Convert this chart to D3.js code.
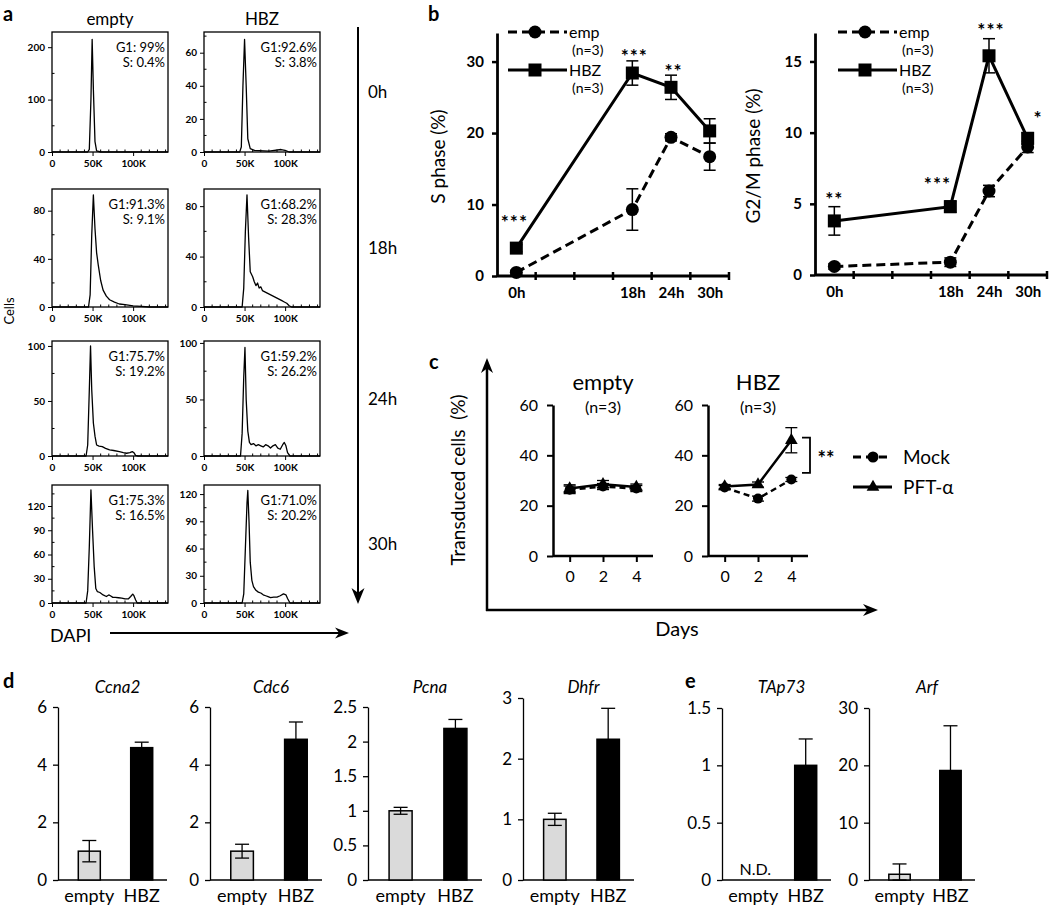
<!DOCTYPE html>
<html><head><meta charset="utf-8">
<script src="https://cdn.jsdelivr.net/npm/d3@7"></script>
<style>
body{margin:0;background:#fff;}
svg{display:block;font-family:Lato,"Open Sans",sans-serif;}
</style></head><body>
<script>
// ================= DATA =================
// Panel a : DNA histograms
const histConds = ["empty", "HBZ"];
const histTimes = ["0h", "18h", "24h", "30h"];
const histG1 = ["G1: 99%", "G1:92.6%", "G1:91.3%", "G1:68.2%", "G1:75.7%", "G1:59.2%", "G1:75.3%", "G1:71.0%"];
const histS  = ["S: 0.4%", "S: 3.8%", "S: 9.1%", "S: 28.3%", "S: 19.2%", "S: 26.2%", "S: 16.5%", "S: 20.2%"];
const histYTicks = [[0,100,200],[0,20,40,60],[0,40,80],[0,40,80],[0,50,100],[0,50,100],[0,30,60,90,120],[0,30,60,90,120]];
const histYMax = [229, 72.5, 98, 93.6, 104.5, 101.7, 146, 130];
const histXTicks = [0, 50, 100];
const histXTickLabels = ["0", "50K", "100K"];
const histXMax = 143;
const histE0  = [[0,0],[44,0],[46,5],[48,100],[49.5,215],[51,120],[53,20],[55,2],[60,0],[143,0]];
const histH0  = [[0,0],[44,0],[46,3],[48,40],[50,68],[52,40],[54,8],[57,2],[62,1],[80,0.5],[95,1.5],[100,1],[105,0],[143,0]];
const histE18 = [[0,0],[45,0],[47,10],[49,60],[51,93],[53,65],[55,45],[57,35],[60,22],[63,14],[67,9],[71,6],[77,4],[83,2.5],[90,2],[100,1],[110,0.5],[120,0],[143,0]];
const histH18 = [[0,0],[47,0],[49,15],[51,60],[53,89],[55,55],[57,28],[60,24],[62,20],[64,17],[66,19],[68,15],[70,16],[72,13],[75,12],[78,11],[81,10],[84,9],[87,8],[90,7],[93,6],[96,5],[99,4],[102,3],[105,1],[108,0],[143,0]];
const histE24 = [[0,0],[42,0],[44,10],[46,60],[47.5,100],[49,60],[51,30],[53,18],[55,10],[58,9],[62,8.5],[66,7],[71,5.5],[76,5],[83,4],[88,3],[92,2.5],[96,3],[99,4],[101,3],[103,0.5],[106,0],[143,0]];
const histH24 = [[0,0],[45,0],[47,20],[49,70],[50.5,96],[52,50],[54,22],[56,12],[58,10],[61,11],[64,9],[67,10],[70,9],[73,8],[76,10],[79,9],[82,7],[85,9],[88,10],[91,7],[94,6],[97,10],[99,12],[101,9],[103,3],[106,0],[143,0]];
const histE30 = [[0,0],[42,0],[44,15],[46,70],[48,140],[50,90],[52,45],[54,18],[56,14],[59,13],[63,10],[67,8],[70,10],[72,9],[75,7],[78,7],[82,6.5],[86,6],[90,5],[94,5],[97,8],[99.5,11],[101,9],[103,4],[105,0],[143,0]];
const histH30 = [[0,0],[47,0],[49,10],[51,60],[53,110],[54,124],[55.5,90],[57,45],[59,25],[61,18],[64,14],[67,12],[70,11],[73,9],[76,8],[79,7],[82,6],[86,6.5],[90,6.5],[94,8],[98,10],[101,9],[103,5],[106,0],[143,0]];
const histCurves = [histE0, histH0, histE18, histH18, histE24, histH24, histE30, histH30];

// Panel b : S phase and G2/M phase time course
const bHours = [0, 18, 24, 30];
const bHourLabels = ["0h", "18h", "24h", "30h"];
const bSeries = ["emp", "HBZ"];
const sEmp = [0.5, 9.3, 19.4, 16.7];
const sEmpErr = [0.3, 2.9, 0.5, 1.9];
const sHBZ = [3.9, 28.4, 26.4, 20.3];
const sHBZErr = [0.5, 1.7, 1.7, 1.7];
const sStars = ["***", "***", "**"];
const sStarX = [-0.3, 18.3, 24.4];
const sStarY = [8.1, 31.3, 29.2];
const sYTicks = [0, 10, 20, 30];
const gEmp = [0.6, 0.9, 5.9, 9.0];
const gEmpErr = [0.2, 0.3, 0.4, 0.4];
const gHBZ = [3.8, 4.8, 15.4, 9.6];
const gHBZErr = [1.0, 0.4, 1.2, 0.4];
const gStars = ["**", "***", "***", "*"];
const gStarX = [0, 16, 24.3, 31.6];
const gStarY = [5.6, 6.7, 17.5, 11.3];
const gYTicks = [0, 5, 10, 15];

// Panel c : transduced cells
const cDays = [0, 2, 4];
const cSeries = ["Mock", "PFT-α"];
const cEmptyMock = [26.3, 27.6, 26.8];
const cEmptyMockErr = [1.5, 1.2, 1.2];
const cEmptyPFT = [26.8, 28.5, 27.4];
const cEmptyPFTErr = [1.5, 1.5, 1.2];
const cHBZMock = [27.2, 22.8, 30.4];
const cHBZMockErr = [0.8, 1.0, 0.8];
const cHBZPFT = [27.6, 28.4, 46.0];
const cHBZPFTErr = [0.8, 1.0, 5.0];
const cYTicks = [0, 20, 40, 60];
const cBracket = [33, 47];

// Panels d, e : qPCR
const genes = ["Ccna2", "Cdc6", "Pcna", "Dhfr", "TAp73", "Arf"];
const groups = ["empty", "HBZ"];
const geneEmpty    = [1.0, 1.0, 1.0, 1.0, null, 1.0];
const geneEmptyErr = [0.37, 0.24, 0.05, 0.1, null, 1.8];
const geneHBZ      = [4.59, 4.88, 2.19, 2.32, 1.0, 19.1];
const geneHBZErr   = [0.19, 0.6, 0.13, 0.51, 0.23, 7.8];
const geneYMax = [6, 6, 2.5, 3, 1.5, 30];
const geneYTicks = [[0,2,4,6],[0,2,4,6],[0,0.5,1,1.5,2,2.5],[0,1,2,3],[0,0.5,1,1.5],[0,10,20,30]];

// ================= DRAW =================
const svg = d3.select("body").append("svg").attr("width", 1050).attr("height", 907);

function panelLetter(t, x, y) {
  svg.append("text").attr("x", x).attr("y", y).attr("font-size", 20).attr("font-weight", 700).text(t);
}
function arrowHead(x, y, angle, len, hw) {
  const p = `M0,0 L${-len},${-hw} L${-len * 0.7},0 L${-len},${hw} Z`;
  svg.append("path").attr("d", p).attr("fill", "#000")
    .attr("transform", `translate(${x},${y}) rotate(${angle})`);
}

// ---------- Panel a ----------
panelLetter("a", 3, 21);
const colX = [52, 204], fw = 116;
const rowTop = [32, 189, 341, 485], rowBot = [152, 307, 456, 603];
const titleX = [110, 262];
histConds.forEach((c, i) => svg.append("text").attr("x", titleX[i]).attr("y", 25)
  .attr("text-anchor", "middle").attr("font-size", 17).text(c));

histCurves.forEach((curve, i) => {
  const row = Math.floor(i / 2), col = i % 2;
  const x = d3.scaleLinear([0, histXMax], [colX[col], colX[col] + fw]);
  const y = d3.scaleLinear([0, histYMax[i]], [rowBot[row], rowTop[row]]);
  const g = svg.append("g");
  const yt = histYTicks[i], step = yt[1] - yt[0];
  const minorY = [];
  for (let v = step / 2; v < histYMax[i]; v += step / 2) if (!yt.includes(v)) minorY.push(v);
  g.selectAll(".my").data(minorY).join("line")
    .attr("x1", x(0)).attr("x2", x(0) + 2.5).attr("y1", d => y(d)).attr("y2", d => y(d))
    .attr("stroke", "#000").attr("stroke-width", 1);
  const minorX = d3.range(10, histXMax, 10).filter(v => !histXTicks.includes(v));
  g.selectAll(".mx").data(minorX).join("line")
    .attr("x1", d => x(d)).attr("x2", d => x(d)).attr("y1", y(0)).attr("y2", y(0) - 2.5)
    .attr("stroke", "#000").attr("stroke-width", 1);
  const ya = g.append("g").attr("transform", `translate(${x(0)},0)`)
    .call(d3.axisLeft(y).tickValues(yt).tickSize(4).tickSizeOuter(0).tickPadding(3));
  ya.select(".domain").remove();
  ya.selectAll("text").attr("font-size", 10).attr("font-weight", 700).attr("font-family", "Lato");
  const xa = g.append("g").attr("transform", `translate(0,${y(0)})`)
    .call(d3.axisBottom(x).tickValues(histXTicks).tickFormat((d, k) => histXTickLabels[k]).tickSize(4).tickSizeOuter(0).tickPadding(4));
  xa.select(".domain").remove();
  xa.selectAll("text").attr("font-size", 10).attr("font-weight", 700).attr("font-family", "Lato");
  g.append("rect").attr("x", x(0)).attr("y", rowTop[row]).attr("width", fw)
    .attr("height", rowBot[row] - rowTop[row]).attr("fill", "none").attr("stroke", "#000").attr("stroke-width", 1.3);
  g.append("path").datum(curve)
    .attr("d", d3.line().x(d => x(d[0])).y(d => y(Math.min(d[1], histYMax[i]))))
    .attr("fill", "none").attr("stroke", "#000").attr("stroke-width", 1.3).attr("stroke-linejoin", "round");
  g.append("text").attr("x", x(0) + fw - 3).attr("y", rowTop[row] + 20).attr("text-anchor", "end")
    .attr("font-size", 13).text(histG1[i]);
  g.append("text").attr("x", x(0) + fw - 3).attr("y", rowTop[row] + 35).attr("text-anchor", "end")
    .attr("font-size", 13).text(histS[i]);
});
histTimes.forEach((t, r) => svg.append("text").attr("x", 368).attr("y", (rowTop[r] + rowBot[r]) / 2 + 6)
  .attr("font-size", 17).text(t));
svg.append("line").attr("x1", 358).attr("x2", 358).attr("y1", 27).attr("y2", 595)
  .attr("stroke", "#000").attr("stroke-width", 2);
arrowHead(358, 604, 90, 16, 6.5);
svg.append("text").attr("transform", "translate(14,311) rotate(-90)").attr("text-anchor", "middle")
  .attr("font-size", 13).text("Cells");
svg.append("text").attr("x", 50).attr("y", 642).attr("font-size", 18).text("DAPI");
svg.append("line").attr("x1", 110).attr("x2", 340).attr("y1", 633).attr("y2", 633)
  .attr("stroke", "#000").attr("stroke-width", 2);
arrowHead(349, 633, 0, 14, 5.5);

// ---------- Panel b ----------
panelLetter("b", 428, 21);
function drawB(cfg) {
  const x = d3.scaleLinear([-3, 33], [cfg.x0, cfg.x1]);
  const y = d3.scaleLinear([0, cfg.yMax], [cfg.y0, cfg.y1]);
  const g = svg.append("g");
  const ya = g.append("g").attr("transform", `translate(${cfg.x0},0)`)
    .call(d3.axisLeft(y).tickValues(cfg.yTicks).tickSize(5).tickSizeOuter(0).tickPadding(8));
  ya.select(".domain").attr("stroke-width", 2.8);
  ya.selectAll(".tick line").attr("stroke-width", 2.5);
  ya.selectAll("text").attr("font-size", 15).attr("font-weight", 700).attr("font-family", "Lato");
  g.append("line").attr("x1", cfg.x0).attr("x2", cfg.x1).attr("y1", cfg.y0).attr("y2", cfg.y0)
    .attr("stroke", "#000").attr("stroke-width", 2.8);
  g.selectAll(".xt").data(d3.range(3, 34, 6)).join("line")
    .attr("x1", d => x(d)).attr("x2", d => x(d)).attr("y1", cfg.y0 - 4).attr("y2", cfg.y0 + 4)
    .attr("stroke", "#000").attr("stroke-width", 2.5);
  const xa = g.append("g").attr("transform", `translate(0,${cfg.y0})`)
    .call(d3.axisBottom(x).tickValues(bHours).tickFormat((d, k) => bHourLabels[k]).tickSize(0).tickPadding(11));
  xa.select(".domain").remove();
  xa.selectAll("text").attr("font-size", 15).attr("font-weight", 700).attr("font-family", "Lato");
  g.append("text").attr("transform", `translate(${cfg.titleX},${(cfg.y0 + cfg.y1) / 2 + 2}) rotate(-90)`)
    .attr("text-anchor", "middle").attr("font-size", 19).text(cfg.title);
  const series = [
    { v: cfg.emp, e: cfg.empErr, dash: "9,5", mark: "circle" },
    { v: cfg.hbz, e: cfg.hbzErr, dash: null, mark: "square" }
  ];
  const line = d3.line().x((d, k) => x(bHours[k])).y(d => y(d));
  series.forEach(s => {
    g.append("path").datum(s.v).attr("d", line).attr("fill", "none").attr("stroke", "#000")
      .attr("stroke-width", 3).attr("stroke-dasharray", s.dash);
  });
  series.forEach(s => {
    s.v.forEach((v, k) => {
      const cx = x(bHours[k]);
      g.append("line").attr("x1", cx).attr("x2", cx).attr("y1", y(v - s.e[k])).attr("y2", y(v + s.e[k]))
        .attr("stroke", "#000").attr("stroke-width", 1.5);
      [v - s.e[k], v + s.e[k]].forEach(t => g.append("line").attr("x1", cx - 6).attr("x2", cx + 6)
        .attr("y1", y(t)).attr("y2", y(t)).attr("stroke", "#000").attr("stroke-width", 1.5));
    });
  });
  series.forEach(s => {
    s.v.forEach((v, k) => {
      const cx = x(bHours[k]), cy = y(v);
      if (s.mark === "circle") g.append("circle").attr("cx", cx).attr("cy", cy).attr("r", 6.5).attr("fill", "#000");
      else g.append("rect").attr("x", cx - 6.5).attr("y", cy - 6.5).attr("width", 13).attr("height", 13).attr("fill", "#000");
    });
  });
  cfg.stars.forEach((st, k) => g.append("text").attr("x", x(cfg.starX[k])).attr("y", y(cfg.starY[k]) + 11)
    .attr("text-anchor", "middle").attr("font-size", 19).attr("font-weight", 700)
    .attr("letter-spacing", 1).text(st));
  const lx = cfg.legendX;
  bSeries.forEach((name, k) => {
    const ly = [32, 70][k];
    g.append("line").attr("x1", lx).attr("x2", lx + 59).attr("y1", ly).attr("y2", ly)
      .attr("stroke", "#000").attr("stroke-width", 3).attr("stroke-dasharray", k === 0 ? "9,5" : null);
    if (k === 0) g.append("circle").attr("cx", lx + 27).attr("cy", ly).attr("r", 6.5).attr("fill", "#000");
    else g.append("rect").attr("x", lx + 20.5).attr("y", ly - 6.5).attr("width", 13).attr("height", 13).attr("fill", "#000");
    g.append("text").attr("x", lx + 61).attr("y", ly + 6).attr("font-size", 16).text(name);
    g.append("text").attr("x", lx + 64).attr("y", ly + 23).attr("font-size", 14).text("(n=3)");
  });
}
drawB({ x0: 497, x1: 729, y0: 276, y1: 33, yMax: 34, yTicks: sYTicks, title: "S phase (%)", titleX: 445,
  emp: sEmp, empErr: sEmpErr, hbz: sHBZ, hbzErr: sHBZErr, stars: sStars, starX: sStarX, starY: sStarY, legendX: 508 });
drawB({ x0: 815, x1: 1047, y0: 275, y1: 33, yMax: 17, yTicks: gYTicks, title: "G2/M phase (%)", titleX: 760,
  emp: gEmp, empErr: gEmpErr, hbz: gHBZ, hbzErr: gHBZErr, stars: gStars, starX: gStarX, starY: gStarY, legendX: 838 });

// ---------- Panel c ----------
panelLetter("c", 429, 369);
svg.append("line").attr("x1", 487).attr("x2", 487).attr("y1", 611).attr("y2", 368)
  .attr("stroke", "#000").attr("stroke-width", 2.5);
arrowHead(487, 358, -90, 15, 6);
svg.append("line").attr("x1", 486).attr("x2", 868).attr("y1", 610).attr("y2", 610)
  .attr("stroke", "#000").attr("stroke-width", 2.5);
arrowHead(878, 610, 0, 15, 6);
svg.append("text").attr("transform", "translate(465,480) rotate(-90)").attr("text-anchor", "middle")
  .attr("font-size", 19).style("white-space", "pre").text("Transduced cells  (%)");
svg.append("text").attr("x", 677).attr("y", 636).attr("text-anchor", "middle").attr("font-size", 20).text("Days");

function drawC(cfg) {
  const x = d3.scaleLinear([-1, 5], [cfg.x0, cfg.x0 + 100]);
  const y = d3.scaleLinear([0, 60], [556, 405]);
  const g = svg.append("g");
  const ya = g.append("g").attr("transform", `translate(${cfg.x0},0)`)
    .call(d3.axisLeft(y).tickValues(cYTicks).tickSize(6).tickSizeOuter(0).tickPadding(9));
  ya.select(".domain").attr("stroke-width", 2.5);
  ya.selectAll(".tick line").attr("stroke-width", 2);
  ya.selectAll("text").attr("font-size", 16).attr("font-family", "Lato");
  const xa = g.append("g").attr("transform", `translate(0,556)`)
    .call(d3.axisBottom(x).tickValues(cDays).tickFormat(d3.format("d")).tickSize(6).tickSizeOuter(0).tickPadding(9));
  xa.select(".domain").attr("stroke-width", 2.5).attr("d", `M${cfg.x0},0H${cfg.x0 + 100}`);
  xa.selectAll(".tick line").attr("stroke-width", 2);
  xa.selectAll("text").attr("font-size", 16).attr("font-family", "Lato");
  g.append("text").attr("x", x(2)).attr("y", 390).attr("text-anchor", "middle").attr("font-size", 22).text(cfg.title);
  g.append("text").attr("x", x(2)).attr("y", 413).attr("text-anchor", "middle").attr("font-size", 16).text("(n=3)");
  const line = d3.line().x((d, k) => x(cDays[k])).y(d => y(d));
  const ser = [
    { v: cfg.mock, e: cfg.mockErr, dash: "6,4", mark: "circle" },
    { v: cfg.pft, e: cfg.pftErr, dash: null, mark: "tri" }
  ];
  ser.forEach(s => g.append("path").datum(s.v).attr("d", line).attr("fill", "none").attr("stroke", "#000")
    .attr("stroke-width", 2.5).attr("stroke-dasharray", s.dash));
  ser.forEach(s => s.v.forEach((v, k) => {
    const cx = x(cDays[k]);
    g.append("line").attr("x1", cx).attr("x2", cx).attr("y1", y(v - s.e[k])).attr("y2", y(v + s.e[k]))
      .attr("stroke", "#000").attr("stroke-width", 1.3);
    [v - s.e[k], v + s.e[k]].forEach(t => g.append("line").attr("x1", cx - 6).attr("x2", cx + 6)
      .attr("y1", y(t)).attr("y2", y(t)).attr("stroke", "#000").attr("stroke-width", 1.3));
  }));
  ser.forEach(s => s.v.forEach((v, k) => {
    const cx = x(cDays[k]), cy = y(v);
    if (s.mark === "circle") g.append("circle").attr("cx", cx).attr("cy", cy).attr("r", 5).attr("fill", "#000");
    else g.append("path").attr("d", d3.symbol(d3.symbolTriangle, 70)()).attr("transform", `translate(${cx},${cy})`).attr("fill", "#000");
  }));
  return { x, y, g };
}
drawC({ x0: 553, title: "empty", mock: cEmptyMock, mockErr: cEmptyMockErr, pft: cEmptyPFT, pftErr: cEmptyPFTErr });
const cH = drawC({ x0: 708, title: "HBZ", mock: cHBZMock, mockErr: cHBZMockErr, pft: cHBZPFT, pftErr: cHBZPFTErr });
{
  const bx = 810, y1 = cH.y(cBracket[1]), y0 = cH.y(cBracket[0]);
  svg.append("path").attr("d", `M${bx - 8},${y1}H${bx}V${y0}H${bx - 8}`).attr("fill", "none")
    .attr("stroke", "#000").attr("stroke-width", 1.8);
  svg.append("text").attr("x", 826).attr("y", (y0 + y1) / 2 + 11).attr("text-anchor", "middle")
    .attr("font-size", 20).attr("font-weight", 700).text("**");
}
cSeries.forEach((name, k) => {
  const ly = [457, 487][k];
  svg.append("line").attr("x1", 853).attr("x2", 892).attr("y1", ly).attr("y2", ly).attr("stroke", "#000")
    .attr("stroke-width", 3).attr("stroke-dasharray", k === 0 ? "8,5" : null);
  if (k === 0) svg.append("circle").attr("cx", 873).attr("cy", ly).attr("r", 5.5).attr("fill", "#000");
  else svg.append("path").attr("d", d3.symbol(d3.symbolTriangle, 70)()).attr("transform", `translate(873,${ly})`).attr("fill", "#000");
  svg.append("text").attr("x", 903).attr("y", ly + 7).attr("font-size", 19).text(name);
});

// ---------- Panels d, e ----------
panelLetter("d", 3, 688);
panelLetter("e", 685, 688);
const dX = [[58, 167], [210, 322], [368, 482], [523, 634], [722, 831], [869, 975]];
const dTop = [707, 707, 707, 698, 708, 708];
const dBase = 880;
genes.forEach((gene, i) => {
  const g = svg.append("g");
  const x = d3.scaleBand(groups, [dX[i][0] + 3, dX[i][1] + 3]).paddingInner(0.58).paddingOuter(0.33);
  const y = d3.scaleLinear([0, geneYMax[i]], [dBase, dTop[i]]);
  const ya = g.append("g").attr("transform", `translate(${dX[i][0]},0)`)
    .call(d3.axisLeft(y).tickValues(geneYTicks[i]).tickFormat(d => String(d)).tickSize(5).tickSizeOuter(0).tickPadding(6));
  ya.select(".domain").attr("stroke-width", 1.3);
  ya.selectAll(".tick line").attr("stroke-width", 1.3);
  ya.selectAll("text").attr("font-size", 17).attr("font-family", "Lato");
  g.append("line").attr("x1", dX[i][0]).attr("x2", dX[i][1]).attr("y1", dBase).attr("y2", dBase)
    .attr("stroke", "#000").attr("stroke-width", 1.3);
  const vals = [geneEmpty[i], geneHBZ[i]], errs = [geneEmptyErr[i], geneHBZErr[i]];
  vals.forEach((v, k) => {
    if (v === null) return;
    g.append("rect").attr("x", x(groups[k])).attr("width", x.bandwidth()).attr("y", y(v)).attr("height", dBase - y(v))
      .attr("fill", k === 0 ? "#dadada" : "#000").attr("stroke", "#000").attr("stroke-width", 1.5);
  });
  vals.forEach((v, k) => {
    if (v === null) return;
    const cx = x(groups[k]) + x.bandwidth() / 2;
    const lo = Math.max(0, v - errs[k]), hi = v + errs[k];
    g.append("line").attr("x1", cx).attr("x2", cx).attr("y1", y(lo)).attr("y2", y(hi)).attr("stroke", "#000").attr("stroke-width", 1.3);
    [lo, hi].forEach(t => g.append("line").attr("x1", cx - 7).attr("x2", cx + 7).attr("y1", y(t)).attr("y2", y(t))
      .attr("stroke", "#000").attr("stroke-width", 1.3));
  });
  if (geneEmpty[i] === null) {
    g.append("text").attr("x", x("empty") + x.bandwidth() / 2 + 2).attr("y", 875).attr("text-anchor", "middle")
      .attr("font-size", 16).text("N.D.");
  }
  groups.forEach(gr => g.append("text").attr("x", x(gr) + x.bandwidth() / 2).attr("y", 902)
    .attr("text-anchor", "middle").attr("font-size", 18).text(gr));
  g.append("text").attr("x", (dX[i][0] + dX[i][1]) / 2 + 5).attr("y", 693).attr("text-anchor", "middle")
    .attr("font-size", 17).attr("font-style", "italic").text(gene);
});
</script>
</body></html>
